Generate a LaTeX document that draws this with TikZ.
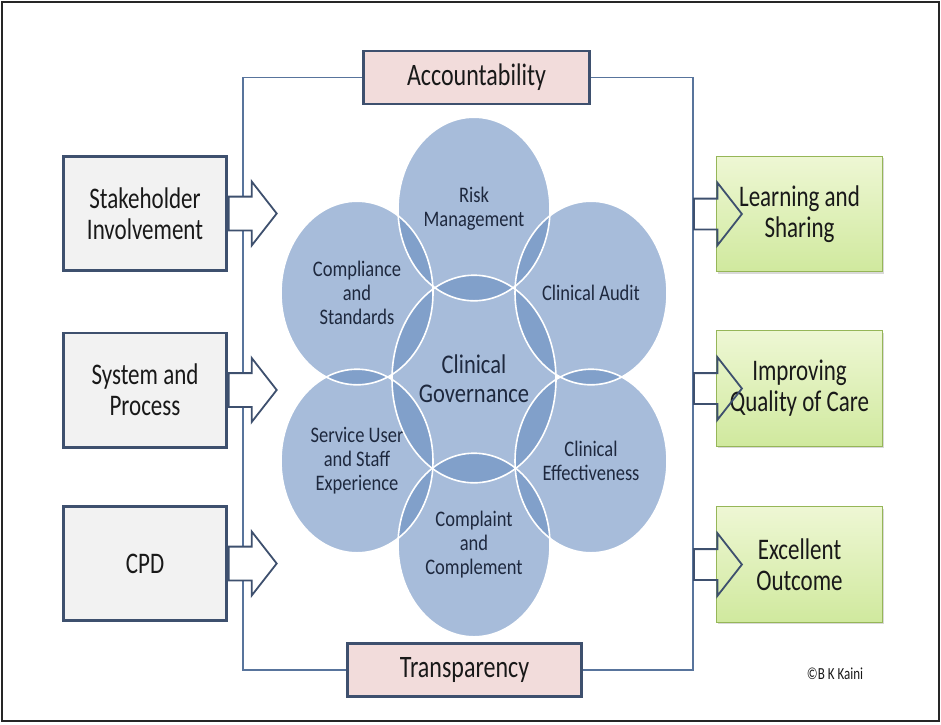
\documentclass[tikz,border=0pt]{standalone}
\usepackage{fontspec}
\setmainfont{Carlito}
\usetikzlibrary{shapes.geometric, shapes.arrows, shadows}

\definecolor{edgeblue}{RGB}{62,80,110}
\definecolor{framebl}{RGB}{88,116,156}
\definecolor{bubble}{RGB}{100,138,190}
\definecolor{boxgrey}{RGB}{242,242,242}
\definecolor{pinkfill}{RGB}{242,220,219}
\definecolor{limetop}{RGB}{238,247,212}
\definecolor{limebot}{RGB}{208,233,158}
\definecolor{limeedge}{RGB}{150,182,88}
\definecolor{navytext}{RGB}{30,40,62}
\definecolor{boxtext}{RGB}{25,25,25}

\begin{document}
\begin{tikzpicture}[x=1pt, y=-1pt,
    side node/.style={rectangle, draw=edgeblue, line width=2.6pt, fill=boxgrey, minimum width=163pt, minimum height=88pt, align=center, text=boxtext, font=\fontsize{23}{24}\selectfont, yscale=1.3},
    goal node/.style={rectangle, draw=limeedge, line width=1.2pt, top color=limetop, bottom color=limebot, minimum width=166pt, minimum height=89pt, align=center, text=boxtext, font=\fontsize{23}{24}\selectfont, yscale=1.3, drop shadow={opacity=0.3, shadow xshift=1.5pt, shadow yshift=-2pt}},
    pillar node/.style={rectangle, draw=edgeblue, line width=2.6pt, fill=pinkfill, minimum height=41pt, text=boxtext, font=\fontsize{24}{24}\selectfont, yscale=1.3},
    bubble fill/.style={ellipse, fill=bubble, fill opacity=0.57, minimum width=152pt, minimum height=153pt, inner sep=0pt, yscale=1.2},
    bubble node/.style={ellipse, draw=white, line width=1.6pt, minimum width=152pt, minimum height=153pt, inner sep=0pt, align=center, text=navytext, font=\fontsize{18.5}{20}\selectfont, yscale=1.2},
    core/.style={minimum width=164pt, minimum height=173pt, font=\fontsize{22.5}{24}\selectfont},
    push arrow/.style={single arrow, draw=edgeblue, line width=1.8pt, minimum height=48pt, inner xsep=0pt, inner ysep=16pt, single arrow head extend=15pt, single arrow tip angle=104, anchor=tail},
    slim/.style={inner ysep=14.5pt, single arrow head extend=16pt},
    frame line/.style={draw=framebl, line width=1.1pt}]
\useasboundingbox (0,0) rectangle (941,724);
\draw[black!85, line width=1.6pt] (2,2) rectangle (939,721);

\node[pillar node, minimum width=226pt] (acc) at (476.5,77.5) {Accountability};
\node[pillar node, minimum width=234pt] (tra) at (464.5,670) {Transparency};
\coordinate (fw) at (243,0);
\coordinate (fe) at (693,0);
\draw[frame line] (acc.west) -| (fw |- tra.west) -- (tra.west);
\draw[frame line] (acc.east) -| (fe |- tra.east) -- (tra.east);

\node[side node] (stake) at (145,213.5) {Stakeholder\\Involvement};
\node[side node] (sys) at (145,390) {System and\\Process};
\node[side node] (cpd) at (145,563.5) {CPD};
\foreach \src in {stake, sys, cpd}
    \node[push arrow, fill=white] at (\src.east) {};

\node[goal node] (learn) at (799.5,214) {Learning and\\Sharing};
\node[goal node] (qual) at (799.5,388.5) {Improving\\Quality of Care};
\node[goal node] (outc) at (799.5,564.5) {Excellent\\Outcome};
\foreach \dst in {learn, qual, outc}
    \node[push arrow, slim] at (fe |- \dst.west) {};

\foreach \n/\x/\y in {risk/474/209, audit/591/293, effect/591/461, complaint/474/545, service/357/461, comply/357/293}
    \node[bubble fill] (\n fill) at (\x,\y) {};
\node[bubble fill, core] (cg fill) at (474,379) {};
\foreach \n/\x/\y/\t in {risk/474/209/{Risk\\Management}, audit/591/293/{Clinical Audit}, effect/591/461/{Clinical\\Effectiveness}, complaint/474/545/{Complaint\\and\\Complement}, service/357/461/{Service User\\and Staff\\Experience}, comply/357/293/{Compliance\\and\\Standards}}
    \node[bubble node] (\n) at (\x,\y) {\t};
\node[bubble node, core] (cg) at (474,379) {Clinical\\Governance};

\node[text=boxtext, font=\fontsize{13}{13}\selectfont, yscale=1.3] (credit) at (835,674) {©B K Kaini};
\end{tikzpicture}
\end{document}
